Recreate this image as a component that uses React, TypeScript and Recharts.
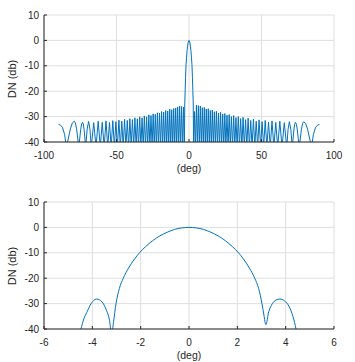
import { CartesianGrid, Line, LineChart, XAxis, YAxis } from 'recharts';

// ---------------------------------------------------------------------------
// Data
// ---------------------------------------------------------------------------

// main lobe of the wide plot
const mainDeg = [-3.06, -2.93, -2.65, -2.37, -2.03, -1.68, -1.34, -0.99, -0.65, -0.3, 0, 0.3, 0.65, 0.99, 1.34, 1.68, 2.03, 2.37, 2.65, 2.93, 3.06];
const mainDb = [-34.1, -25, -19.7, -14.5, -9.5, -6.6, -4.0, -2.3, -1.0, -0.2, 0, -0.2, -1.0, -2.3, -4.0, -6.6, -9.5, -14.5, -19.7, -25, -34.1];

// side lobe peaks, inner to outer (positive side, mirrored for the left side)
const lobePeakDeg = [3.76, 5.11, 6.46, 7.82, 9.18, 10.55, 11.92, 13.29, 14.69, 16.08, 17.49, 18.9, 20.34, 21.78, 23.24, 24.71, 26.2, 27.71, 29.24, 30.8, 32.38, 33.99, 35.63, 37.3, 39.01, 40.77, 42.57, 44.43, 46.35, 48.34, 50.41, 52.56, 54.84, 57.25, 59.83, 62.62, 65.72, 69.23, 73.43, 79.11];
// nulls between the lobes, inner to outer
const lobeNullDeg = [3.2, 4.43, 5.78, 7.14, 8.5, 9.86, 11.23, 12.6, 13.99, 15.38, 16.78, 18.19, 19.62, 21.06, 22.51, 23.97, 25.45, 26.95, 28.47, 30.02, 31.59, 33.18, 34.81, 36.46, 38.15, 39.88, 41.66, 43.49, 45.38, 47.34, 49.37, 51.47, 53.68, 56.02, 58.51, 61.19, 64.13, 67.41, 71.22, 75.99, 84.5];
const rightPeakDb = [-28.0, -25.5, -25.7, -25.9, -26.5, -26.4, -27.0, -26.9, -27.6, -27.4, -28.1, -27.9, -28.6, -28.3, -29.0, -28.8, -29.5, -29.2, -30.0, -29.6, -30.4, -30.0, -30.8, -30.3, -31.2, -30.6, -31.5, -31.0, -31.8, -31.3, -32.0, -31.5, -32.2, -31.7, -32.3, -31.8, -32.4, -32.0, -32.3, -32.0];
const leftPeakDb = [-26.3, -26.0, -25.9, -26.2, -26.6, -26.8, -27.3, -27.1, -27.8, -27.6, -28.2, -28.0, -28.7, -28.5, -29.1, -28.9, -29.6, -29.3, -30.1, -29.7, -30.5, -30.1, -30.9, -30.5, -31.2, -30.8, -31.5, -31.1, -31.8, -31.4, -32.0, -31.6, -32.3, -31.7, -32.3, -31.8, -32.4, -31.9, -32.2, -31.8];
const NULL_DB = -42;

// rounded flanks of the wide outer lobes
const shoulderDeg = [68.32, 70.23, 72.33, 72.88, 74.07, 74.71, 77.55, 78.33, 80.46, 81.8];
const rightShoulderDb = [-35.0, -35.0, -35.3, -33.0, -33.0, -35.3, -35.0, -32.7, -32.7, -35.0];
const leftShoulderDb = [-34.9, -34.9, -35.2, -32.9, -32.9, -35.2, -34.8, -32.5, -32.5, -34.8];

// partial lobe at the end of the range
const edgeDeg = [85.8, 87.3, 88.6, 90];
const edgeDb = [-37, -34.2, -33.4, -33];

// zoomed main lobe (second plot)
const zoomDeg = [-4.55, -4.47, -4.35, -4.23, -4.05, -3.82, -3.6, -3.41, -3.3, -3.2, -3.12, -3.02, -2.88, -2.72, -2.5, -2.25, -2.05, -1.8, -1.5, -1.2, -0.9, -0.6, -0.3, 0, 0.3, 0.6, 0.9, 1.2, 1.5, 1.8, 2.05, 2.25, 2.5, 2.72, 2.88, 3.02, 3.1, 3.18, 3.3, 3.45, 3.6, 3.76, 3.95, 4.15, 4.3, 4.43, 4.5];
const zoomDb = [-43, -40, -36, -33.5, -30, -28.2, -29.3, -32.8, -36, -42, -37, -30, -24, -20, -16, -12.4, -10, -7.6, -5.2, -3.3, -1.9, -0.8, -0.2, 0, -0.2, -0.8, -1.9, -3.3, -5.2, -7.6, -10, -12.4, -16, -20, -24, -30, -34.5, -38.3, -33.2, -30, -28.6, -28.2, -28.9, -31.3, -35, -40, -43];

const topTicksX = [-100, -50, 0, 50, 100];
const zoomTicksX = [-6, -4, -2, 0, 2, 4, 6];
const ticksY = [-40, -30, -20, -10, 0, 10];

// ---------------------------------------------------------------------------
// Tables
// ---------------------------------------------------------------------------

type Pt = { x: number; y: number };

function buildTop(): Pt[] {
  const pts: Pt[] = [];
  mainDeg.forEach((d, i) => pts.push({ x: d, y: mainDb[i] }));
  lobePeakDeg.forEach((d, i) => {
    pts.push({ x: d, y: rightPeakDb[i] });
    pts.push({ x: -d, y: leftPeakDb[i] });
  });
  lobeNullDeg.forEach((d) => {
    pts.push({ x: d, y: NULL_DB });
    pts.push({ x: -d, y: NULL_DB });
  });
  shoulderDeg.forEach((d, i) => {
    pts.push({ x: d, y: rightShoulderDb[i] });
    pts.push({ x: -d, y: leftShoulderDb[i] });
  });
  edgeDeg.forEach((d, i) => {
    pts.push({ x: d, y: edgeDb[i] });
    pts.push({ x: -d, y: edgeDb[i] });
  });
  return pts.sort((a, b) => a.x - b.x);
}

const topData = buildTop();
const zoomData: Pt[] = zoomDeg.map((d, i) => ({ x: d, y: zoomDb[i] }));

// ---------------------------------------------------------------------------
// Styling
// ---------------------------------------------------------------------------

const AXIS = '#262626';
const TEXT = '#262626';
const GRID = '#dfdfdf';
const LINE = '#0072BD';
const FONT = "'Liberation Sans', Arial, Helvetica, sans-serif";

const BottomTick = (p: any) => (
  <g>
    <line x1={p.x} x2={p.x} y1={p.y} y2={p.y - 3} stroke={AXIS} />
    <text x={p.x} y={p.y + 13} dy="0.35em" textAnchor="middle" fontSize={10} fontFamily={FONT} fill={TEXT}>
      {p.payload.value}
    </text>
  </g>
);

const TopTick = (p: any) => (
  <line x1={p.x} x2={p.x} y1={p.y} y2={p.y + 3} stroke={AXIS} />
);

const LeftTick = (p: any) => (
  <g>
    <line x1={p.x} x2={p.x + 3} y1={p.y} y2={p.y} stroke={AXIS} />
    <text x={p.x - 5} y={p.y} dy="0.35em" textAnchor="end" fontSize={10} fontFamily={FONT} fill={TEXT}>
      {p.payload.value}
    </text>
  </g>
);

const RightTick = (p: any) => (
  <line x1={p.x} x2={p.x - 3} y1={p.y} y2={p.y} stroke={AXIS} />
);

function Panel({
  data,
  domain,
  ticks,
  top,
  marginTop,
  xAxisHeight,
  curve,
}: {
  data: Pt[];
  domain: [number, number];
  ticks: number[];
  top: number;
  marginTop: number;
  xAxisHeight: number;
  curve: 'linear' | 'monotone';
}) {
  const plotTop = top + marginTop;
  const plotBottom = top + 181 - xAxisHeight;
  return (
    <div style={{ position: 'absolute', left: 0, top, width: 355, height: 181 }}>
      <LineChart width={355} height={181} data={data} margin={{ top: marginTop, right: 21, bottom: 0, left: 0 }}>
        <CartesianGrid stroke={GRID} />
        <XAxis
          dataKey="x"
          type="number"
          domain={domain}
          ticks={ticks}
          interval={0}
          allowDataOverflow
          height={xAxisHeight}
          tickSize={0}
          tickMargin={0}
          tickLine={false}
          axisLine={{ stroke: AXIS }}
          tick={<BottomTick />}
        />
        <XAxis
          xAxisId="t"
          orientation="top"
          type="number"
          domain={domain}
          ticks={ticks}
          interval={0}
          height={0}
          tickSize={0}
          tickMargin={0}
          tickLine={false}
          axisLine={{ stroke: AXIS }}
          tick={<TopTick />}
        />
        <YAxis
          type="number"
          domain={[-40, 10]}
          ticks={ticksY}
          interval={0}
          allowDataOverflow
          width={44}
          tickSize={0}
          tickMargin={0}
          tickLine={false}
          axisLine={{ stroke: AXIS }}
          tick={<LeftTick />}
        />
        <YAxis
          yAxisId="r"
          orientation="right"
          type="number"
          domain={[-40, 10]}
          ticks={ticksY}
          interval={0}
          width={0}
          tickSize={0}
          tickMargin={0}
          tickLine={false}
          axisLine={{ stroke: AXIS }}
          tick={<RightTick />}
        />
        <Line
          type={curve}
          dataKey="y"
          stroke={LINE}
          strokeWidth={1}
          dot={false}
          activeDot={false}
          isAnimationActive={false}
        />
      </LineChart>
      <div
        style={{
          position: 'absolute',
          left: 12 - 40,
          top: (plotTop + plotBottom) / 2 - top - 7,
          width: 80,
          height: 14,
          lineHeight: '14px',
          textAlign: 'center',
          transform: 'rotate(-90deg)',
          fontSize: 11,
          fontFamily: FONT,
          color: TEXT,
        }}
      >
        DN (db)
      </div>
      <div
        style={{
          position: 'absolute',
          left: 44,
          width: 290,
          top: plotBottom - top + 26 - 7,
          height: 14,
          lineHeight: '14px',
          textAlign: 'center',
          fontSize: 10.5,
          fontFamily: FONT,
          color: TEXT,
        }}
      >
        (deg)
      </div>
    </div>
  );
}

export default function App() {
  return (
    <div style={{ position: 'absolute', left: 0, top: 0, width: 355, height: 362, background: '#fff' }}>
      <Panel data={topData} domain={[-100, 100]} ticks={topTicksX} top={0} marginTop={15} xAxisHeight={39} curve="linear" />
      <Panel data={zoomData} domain={[-6, 6]} ticks={zoomTicksX} top={181} marginTop={21} xAxisHeight={33} curve="monotone" />
    </div>
  );
}
